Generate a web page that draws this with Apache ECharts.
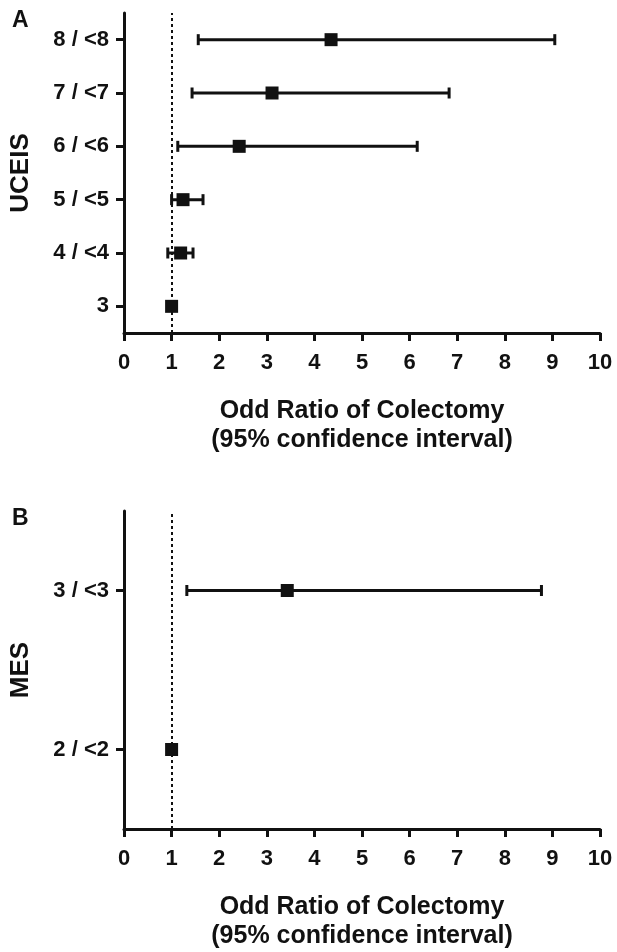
<!DOCTYPE html>
<html>
<head>
<meta charset="utf-8">
<title>Odd Ratio of Colectomy</title>
<script src="https://cdn.jsdelivr.net/npm/echarts@6/dist/echarts.min.js"></script>
<style>
    html, body { margin: 0; padding: 0; background: #fff; }
    #chart { width: 617px; height: 952px; }
</style>
</head>
<body>
<div id="chart"></div>
<script>
// Panel A - UCEIS
const ucCats = ['3', '4 / <4', '5 / <5', '6 / <6', '7 / <7', '8 / <8']
const ucOR = [1.0, 1.19, 1.24, 2.42, 3.11, 4.35]
const ucLo = [null, 0.92, 1.0, 1.13, 1.43, 1.56]
const ucHi = [null, 1.45, 1.66, 6.16, 6.83, 9.05]

// Panel B - MES
const mesCats = ['2 / <2', '3 / <3']
const mesOR = [1.0, 3.43]
const mesLo = [null, 1.32]
const mesHi = [null, 8.77]

const xTicks = [0, 10, 1]  // min, max, interval
const refLine = 1
const xTitle = 'Odd Ratio of Colectomy\n(95% confidence interval)'

const ink = '#111'
const font = "'Liberation Sans', Arial, sans-serif"

function ciData(lo, hi) {
    const out = []
    lo.forEach((v, i) => {
        if (v != null) out.push([v, hi[i], i])
    })
    return out
}

function renderBar(params, api) {
    const a = api.coord([api.value(0), api.value(2)])
    const b = api.coord([api.value(1), api.value(2)])
    const h = 5.5
    const style = { stroke: ink, lineWidth: 3 }
    return {
        type: 'group',
        children: [
            { type: 'line', shape: { x1: a[0], y1: a[1], x2: b[0], y2: b[1] }, style },
            { type: 'line', shape: { x1: a[0], y1: a[1] - h, x2: a[0], y2: a[1] + h }, style },
            { type: 'line', shape: { x1: b[0], y1: b[1] - h, x2: b[0], y2: b[1] + h }, style }
        ]
    }
}

function xAxisFor(idx) {
    return {
        type: 'value',
        gridIndex: idx,
        min: xTicks[0],
        max: xTicks[1],
        interval: xTicks[2],
        name: xTitle,
        nameLocation: 'middle',
        nameGap: 64,
        nameTextStyle: { fontFamily: font, fontWeight: 'bold', fontSize: 25, color: ink, lineHeight: 29 },
        axisLine: { show: true, lineStyle: { color: ink, width: 3 } },
        axisTick: { show: true, length: 8, lineStyle: { color: ink, width: 3 } },
        axisLabel: { fontFamily: font, fontWeight: 'bold', fontSize: 22, color: ink, margin: 19 },
        splitLine: { show: false }
    }
}

function yAxisFor(idx, cats, name) {
    return {
        type: 'category',
        gridIndex: idx,
        data: cats,
        name: name,
        nameLocation: 'middle',
        nameRotate: 90,
        nameGap: 90,
        nameTextStyle: { fontFamily: font, fontWeight: 'bold', fontSize: 26, color: ink },
        axisLine: { show: true, lineStyle: { color: ink, width: 3 } },
        axisTick: { show: true, alignWithLabel: true, length: 8, lineStyle: { color: ink, width: 3 } },
        axisLabel: { fontFamily: font, fontWeight: 'bold', fontSize: 22, color: ink, margin: 15 },
        splitLine: { show: false }
    }
}

function pointSeries(idx, values) {
    return {
        type: 'scatter',
        xAxisIndex: idx,
        yAxisIndex: idx,
        data: values.map((v, i) => [v, i]),
        symbol: 'rect',
        symbolSize: 13,
        itemStyle: { color: ink, opacity: 1 },
        z: 5,
        markLine: {
            silent: true,
            symbol: 'none',
            label: { show: false },
            lineStyle: { color: ink, type: [3, 3], width: 2, opacity: 1 },
            data: [{ xAxis: refLine }]
        }
    }
}

function barSeries(idx, lo, hi) {
    return {
        type: 'custom',
        xAxisIndex: idx,
        yAxisIndex: idx,
        renderItem: renderBar,
        encode: { x: [0, 1], y: 2 },
        data: ciData(lo, hi),
        z: 3
    }
}

const chart = echarts.init(document.getElementById('chart'))

chart.setOption({
    backgroundColor: '#fff',
    animation: false,
    graphic: [
        { type: 'text', left: 12, top: 9, style: { text: 'A', fontFamily: font, fontWeight: 'bold', fontSize: 23, fill: ink } },
        { type: 'text', left: 12, top: 507, style: { text: 'B', fontFamily: font, fontWeight: 'bold', fontSize: 23, fill: ink } }
    ],
    grid: [
        { left: 121, right: 17, top: 13, height: 320 },
        { left: 121, right: 17, top: 511, height: 322 }
    ],
    xAxis: [xAxisFor(0), xAxisFor(1)],
    yAxis: [yAxisFor(0, ucCats, 'UCEIS'), yAxisFor(1, mesCats, 'MES')],
    series: [
        barSeries(0, ucLo, ucHi),
        pointSeries(0, ucOR),
        barSeries(1, mesLo, mesHi),
        pointSeries(1, mesOR)
    ]
})
</script>
</body>
</html>
